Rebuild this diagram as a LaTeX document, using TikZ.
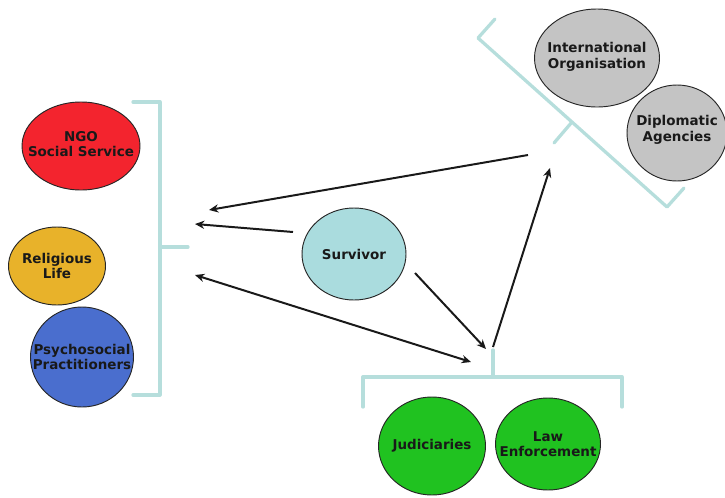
\documentclass[tikz,border=0pt]{standalone}
\usepackage{fontspec}
\setmainfont{DejaVu Sans}
\usetikzlibrary{shapes.geometric,arrows.meta}
\definecolor{ngored}{RGB}{243,36,46}
\definecolor{relyel}{RGB}{232,178,42}
\definecolor{psyblue}{RGB}{74,110,206}
\definecolor{jgreen}{RGB}{32,194,32}
\definecolor{survcyan}{RGB}{170,220,222}
\definecolor{igray}{RGB}{196,196,196}
\definecolor{brack}{RGB}{182,222,220}
\definecolor{txt}{RGB}{25,25,25}
\tikzset{
  bubble/.style={ellipse, draw=black!85, line width=0.8pt, inner sep=0pt},
  lbl/.style={inner sep=0pt, align=center, text=txt, font=\bfseries\fontsize{11.5}{13.3}\selectfont},
  sz/.style 2 args={minimum width=#1*0.03cm, minimum height=#2*0.03cm},
  brk/.style={draw=brack, line width=2.8pt, line cap=round, line join=round},
  arr/.style={draw=black!90, line width=1.7pt, -{Stealth[length=8pt,width=7pt]}},
  darr/.style={draw=black!90, line width=1.7pt, {Stealth[length=8pt,width=7pt]}-{Stealth[length=8pt,width=7pt]}}
}
\begin{document}
\begin{tikzpicture}[x=0.03cm,y=-0.03cm]
\useasboundingbox (0,0) rectangle (725,497);
\clip (0,0) rectangle (725,497);
% left bracket
\draw[brk] (133,102) -- (160,102) -- (160,395) -- (133,395);
\draw[brk] (160,247) -- (188,247);
% bottom bracket
\draw[brk] (363,407) -- (363,377) -- (622,377) -- (622,407);
\draw[brk] (493,377) -- (493,350);
% top-right bracket
\draw[brk] (495,19) -- (478,38) -- (667,207) -- (684,188);
\draw[brk] (572,122) -- (554,143);
% nodes
\node[bubble, fill=ngored, sz={118}{88}] (ngo) at (81,146) {};
\node[lbl] (ngot) at ([yshift=0.06cm]ngo.center) {NGO\\Social Service};
\node[bubble, fill=relyel, sz={97}{78}] (rel) at (57,266) {};
\node[lbl] (relt) at (rel.center) {Religious\\Life};
\node[bubble, fill=psyblue, sz={103}{100}] (psy) at (82,357) {};
\node[lbl] (psyt) at (psy.center) {Psychosocial\\Practitioners};
\node[bubble, fill=survcyan, sz={104}{92}] (surv) at (354,254) {};
\node[lbl] (survt) at (surv.center) {Survivor};
\node[bubble, fill=jgreen, sz={107}{98}] (jud) at (432,446) {};
\node[lbl] (judt) at (jud.center) {Judiciaries};
\node[bubble, fill=jgreen, sz={105}{92}] (law) at (548,444) {};
\node[lbl] (lawt) at (law.center) {Law\\Enforcement};
\node[bubble, fill=igray, sz={125}{98}] (intl) at (597,58) {};
\node[lbl] (intlt) at ([yshift=0.03cm]intl.center) {International\\Organisation};
\node[bubble, fill=igray, sz={100}{96}] (dipl) at (677,133) {};
\node[lbl] (diplt) at ([yshift=0.09cm]dipl.center) {Diplomatic\\Agencies};
% arrow ends
\coordinate (tr) at (528,155);
\coordinate (l1) at (209,210);
\coordinate (s1) at (293,232);
\coordinate (l2) at (195,224);
\coordinate (l3) at (195,275);
\coordinate (b1) at (471,362);
\coordinate (s2) at (415,273);
\coordinate (b2) at (486,349);
\coordinate (b3) at (493,347);
\coordinate (tr2) at (550,168);
\draw[arr] (tr) -- (l1);
\draw[arr] (s1) -- (l2);
\draw[darr] (l3) -- (b1);
\draw[arr] (s2) -- (b2);
\draw[arr] (b3) -- (tr2);
\end{tikzpicture}
\end{document}
